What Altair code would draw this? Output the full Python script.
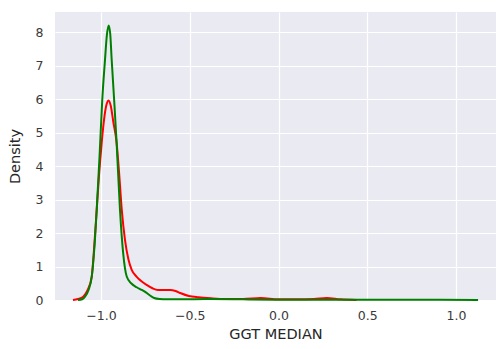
import altair as alt
import pandas as pd

# Red KDE curve (GGT MEDIAN vs density)
red_x = [-1.158, -1.13, -1.10, -1.075, -1.052, -1.038, -1.024, -1.01, -0.996,
         -0.98, -0.968, -0.957, -0.945, -0.93, -0.912, -0.898, -0.883, -0.865,
         -0.845, -0.827, -0.80, -0.77, -0.743, -0.71, -0.68, -0.645, -0.61,
         -0.58, -0.55, -0.505, -0.45, -0.38, -0.3, -0.2, -0.1, 0.0, 0.1, 0.2,
         0.27, 0.35, 0.44]
red_density = [0.0, 0.03, 0.1, 0.3, 0.7, 1.6, 2.7, 3.8, 4.7,
               5.5, 5.85, 5.96, 5.8, 5.3, 4.7, 3.8, 2.7, 1.8,
               1.2, 0.9, 0.7, 0.55, 0.45, 0.35, 0.3, 0.3, 0.3,
               0.27, 0.2, 0.12, 0.08, 0.05, 0.03, 0.03, 0.06, 0.02, 0.02, 0.03,
               0.06, 0.02, 0.0]

# Green KDE curve
green_x = [-1.13, -1.105, -1.09, -1.07, -1.052, -1.038, -1.024, -1.008, -0.993,
           -0.977, -0.967, -0.957, -0.948, -0.94, -0.925, -0.912, -0.893, -0.875,
           -0.855, -0.83, -0.799, -0.77, -0.745, -0.72, -0.70, -0.67, -0.63,
           -0.55, -0.4, -0.2, 0.0, 0.3, 0.6, 0.9, 1.124]
green_density = [0.0, 0.02, 0.1, 0.3, 0.7, 1.5, 2.7, 4.3, 5.96,
                 7.2, 7.9, 8.2, 7.95, 7.2, 5.9, 4.7, 2.7, 1.4,
                 0.7, 0.5, 0.38, 0.3, 0.22, 0.12, 0.06, 0.03, 0.02,
                 0.02, 0.03, 0.02, 0.01, 0.01, 0.01, 0.01, 0.0]

x_ticks = [-1.0, -0.5, 0.0, 0.5, 1.0]
y_ticks = [0, 1, 2, 3, 4, 5, 6, 7, 8]

red_df = pd.DataFrame({"GGT_MEDIAN": red_x, "Density": red_density})
green_df = pd.DataFrame({"GGT_MEDIAN": green_x, "Density": green_density})

x_enc = alt.X("GGT_MEDIAN:Q", title="GGT MEDIAN",
              scale=alt.Scale(domain=[-1.259, 1.225], nice=False, zero=False),
              axis=alt.Axis(values=x_ticks, format=".1f"))
y_enc = alt.Y("Density:Q", title="Density",
              scale=alt.Scale(domain=[0, 8.6], nice=False),
              axis=alt.Axis(values=y_ticks))

red_line = alt.Chart(red_df).mark_line(color="#ff0000", strokeWidth=2,
                                       interpolate="monotone").encode(
    x=x_enc, y=y_enc, order="GGT_MEDIAN:Q")
green_line = alt.Chart(green_df).mark_line(color="#008000", strokeWidth=2,
                                           interpolate="monotone").encode(
    x=x_enc, y=y_enc, order="GGT_MEDIAN:Q")

chart = alt.layer(red_line, green_line).properties(
    width=441, height=288,
    autosize=alt.AutoSizeParams(type="none"),
    padding={"left": 55, "top": 12, "right": 0, "bottom": 49},
    background="white",
).configure_view(
    fill="#eaeaf2", stroke=None
).configure_axis(
    grid=True, gridColor="white", gridWidth=1.2,
    domain=False, ticks=False,
    labelFont="DejaVu Sans", labelFontSize=12.5, labelColor="#3a3a3a",
    titleFont="DejaVu Sans", titleFontSize=14.5, titleColor="#262626",
    titleFontWeight="normal",
).configure_axisX(
    labelPadding=9, titlePadding=6
).configure_axisY(
    labelPadding=12, titlePadding=13
)

chart.save("out.html", embed_options={"renderer": "svg", "actions": False})
